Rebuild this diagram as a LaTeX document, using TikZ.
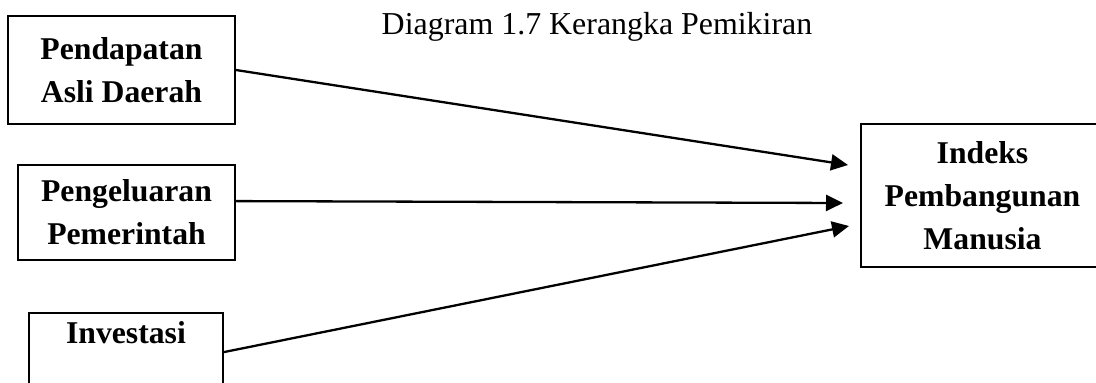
\documentclass[tikz,border=0pt]{standalone}
\usepackage{fontspec}
\setmainfont{Liberation Serif}
\usetikzlibrary{arrows.meta,calc}
\begin{document}
\begin{tikzpicture}[x=1pt,y=1pt,
  boxnode/.style={draw,line width=1.8pt,align=center,inner sep=0pt,
    font=\fontsize{31.7}{43}\selectfont\bfseries},
  arr/.style={line width=2.3pt,-{Triangle[length=17pt,width=16pt]}}]
\useasboundingbox (0,0) rectangle (1096,383);
\clip (0,0) rectangle (1096,383);
\node[anchor=base,font=\fontsize{31.9}{38}\selectfont] (title) at (597,348) {Diagram 1.7 Kerangka Pemikiran};
\node[boxnode,minimum width=227pt,minimum height=108pt] (b1) at (121.5,313) {Pendapatan\\Asli Daerah};
\node[boxnode,minimum width=217pt,minimum height=95pt] (b2) at (126.5,170.5) {Pengeluaran\\Pemerintah};
\node[boxnode,minimum width=194pt,minimum height=95pt] (b3) at (126,22.5) {Investasi\\\strut};
\node[boxnode,minimum width=243pt,minimum height=143pt] (b4) at (982.5,187.5) {Indeks\\Pembangunan\\Manusia};
\coordinate (s2) at ($(b2.north east)+(0,-37)$);
\coordinate (s3) at ($(b3.north east)+(0,-40)$);
\coordinate (t1) at (848,218);
\coordinate (t2) at (843,180);
\coordinate (t3) at (849,157);
\draw[arr] (b1.east) -- (t1);
\draw[arr] (s2) -- (t2);
\draw[arr] (s3) -- (t3);
\end{tikzpicture}
\end{document}
